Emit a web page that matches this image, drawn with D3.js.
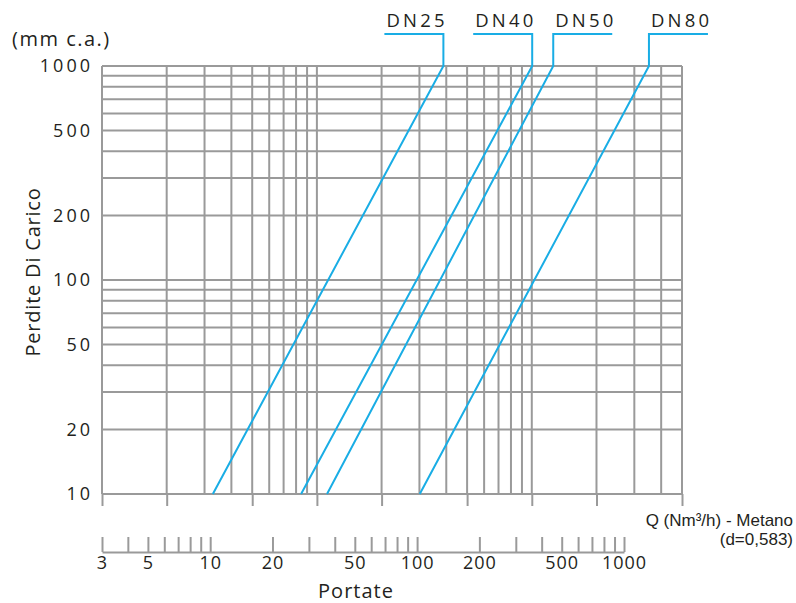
<!DOCTYPE html>
<html>
<head>
<meta charset="utf-8">
<script src="https://cdn.jsdelivr.net/npm/d3@7"></script>
<style>
    body { margin: 0; background: #fff; }
    svg text { font-family: "Open Sans", "Noto Sans", sans-serif; fill: #231f20; }
    .axis path, .axis line { stroke: #9a9a9a; stroke-width: 2; }
</style>
</head>
<body>
<div id="chart"></div>
<script>
// =============================================================================
// Data
// =============================================================================
const SERIES_NAMES = ['DN25', 'DN40', 'DN50', 'DN80'];
// flow Q (Nm3/h) where each line crosses 10 and 1000 mm c.a.
const FLOW_AT_MIN = [10.3, 27.5, 36.7, 103];
const FLOW_AT_MAX = [134, 360, 455, 1320];
const LEADER_SIDE = ['left', 'left', 'right', 'right'];

const LOSS_DOMAIN = [10, 1000];
const LOSS_LABELS = [10, 20, 50, 100, 200, 500, 1000];
const LOSS_GRID = [10, 20, 30, 40, 50, 60, 70, 80, 90, 100,
    200, 300, 400, 500, 600, 700, 800, 900, 1000];

// background grid of the chart (its own log units)
const GRID_DOMAIN = [1, 500];
const GRID_LINES = [1, 2, 3, 4, 5, 6, 7, 8, 9, 10,
    20, 30, 40, 50, 60, 70, 80, 90, 100, 200, 300, 400, 500];
const GRID_MAJOR = [1, 2, 5, 10, 20, 50, 100, 200, 500];

// "Portate" scale
const FLOW_DOMAIN = [3, 1000];
const FLOW_TICKS = [3, 4, 5, 6, 7, 8, 9, 10, 20, 30, 40, 50, 60, 70, 80, 90,
    100, 200, 300, 400, 500, 600, 700, 800, 900, 1000];
const FLOW_LABELS = [3, 5, 10, 20, 50, 100, 200, 500, 1000];

// =============================================================================
// Visual configuration
// =============================================================================
const WIDTH = 796;
const HEIGHT = 603;
const PLOT = { left: 102, right: 682, top: 66, bottom: 494 };
const FLOW_AXIS = { left: 102, right: 624, y: 552 };
const GRID_COLOR = '#9a9a9a';
const LINE_COLOR = '#19ade5';
const LEADER_Y = 34;
const LEADER_LEN = 59;

const svg = d3.select('#chart')
    .append('svg')
    .attr('width', WIDTH)
    .attr('height', HEIGHT);

const y = d3.scaleLog().domain(LOSS_DOMAIN).range([PLOT.bottom, PLOT.top]);
const gx = d3.scaleLog().domain(GRID_DOMAIN).range([PLOT.left, PLOT.right]);
const q = d3.scaleLog().domain(FLOW_DOMAIN).range([FLOW_AXIS.left, FLOW_AXIS.right]);

// Grid
const grid = svg.append('g')
    .attr('stroke', GRID_COLOR)
    .attr('stroke-width', 2)
    .attr('fill', 'none');

grid.selectAll('.h')
    .data(LOSS_GRID)
    .enter()
    .append('line')
    .attr('x1', PLOT.left)
    .attr('x2', PLOT.right)
    .attr('y1', d => y(d))
    .attr('y2', d => y(d));

grid.selectAll('.v')
    .data(GRID_LINES)
    .enter()
    .append('line')
    .attr('x1', d => gx(d))
    .attr('x2', d => gx(d))
    .attr('y1', PLOT.top)
    .attr('y2', PLOT.bottom);

// ticks hanging under the plot
svg.append('g')
    .attr('class', 'axis')
    .attr('transform', `translate(0,${PLOT.bottom})`)
    .call(d3.axisBottom(gx).tickValues(GRID_MAJOR).tickSize(12).tickFormat(''))
    .call(g => g.select('.domain').remove());

// Y labels
svg.append('g')
    .selectAll('text')
    .data(LOSS_LABELS)
    .enter()
    .append('text')
    .attr('x', 93)
    .attr('y', d => y(d))
    .attr('dy', '0.36em')
    .attr('text-anchor', 'end')
    .attr('font-size', '18px')
    .attr('letter-spacing', '3px')
    .text(d => d);

svg.append('text')
    .attr('x', 12)
    .attr('y', 46)
    .attr('font-size', '20px')
    .attr('letter-spacing', '1.5px')
    .text('(mm c.a.)');

svg.append('text')
    .attr('transform', 'translate(40,272) rotate(-90)')
    .attr('text-anchor', 'middle')
    .attr('font-size', '20px')
    .attr('letter-spacing', '0.8px')
    .text('Perdite Di Carico');

// Series lines with label leaders
const line = d3.line().x(d => d[0]).y(d => d[1]);

SERIES_NAMES.forEach((name, i) => {
    const x0 = q(FLOW_AT_MIN[i]);
    const x1 = q(FLOW_AT_MAX[i]);
    const xEnd = LEADER_SIDE[i] === 'left' ? x1 - LEADER_LEN : x1 + LEADER_LEN;
    const pts = [
        [x0, y(LOSS_DOMAIN[0])],
        [x1, y(LOSS_DOMAIN[1])],
        [x1, LEADER_Y],
        [xEnd, LEADER_Y]
    ];
    svg.append('path')
        .attr('d', line(pts))
        .attr('fill', 'none')
        .attr('stroke', LINE_COLOR)
        .attr('stroke-width', 2);

    svg.append('text')
        .attr('x', Math.min(x1, xEnd) + 2)
        .attr('y', 27)
        .attr('font-size', '18.5px')
        .attr('letter-spacing', '3.2px')
        .text(name);
});

// Portate axis
svg.append('g')
    .attr('class', 'axis')
    .attr('transform', `translate(0,${FLOW_AXIS.y})`)
    .call(d3.axisBottom(q)
        .tickValues(FLOW_TICKS)
        .tickSizeInner(-15)
        .tickSizeOuter(0)
        .tickPadding(4)
        .tickFormat(d => FLOW_LABELS.includes(d) ? d : ''))
    .call(g => g.selectAll('text')
        .attr('font-size', '18px')
        .attr('letter-spacing', '1px')
        .attr('font-family', '"Open Sans", sans-serif')
        .attr('fill', '#231f20'));

svg.append('text')
    .attr('x', 356)
    .attr('y', 598)
    .attr('text-anchor', 'middle')
    .attr('font-size', '20px')
    .attr('letter-spacing', '1px')
    .text('Portate');

svg.append('text')
    .attr('x', 793)
    .attr('y', 526)
    .attr('text-anchor', 'end')
    .attr('font-size', '17px')
    .style('font-family', '"Liberation Sans", Arial, sans-serif')
    .text('Q (Nm³/h) - Metano');

svg.append('text')
    .attr('x', 793)
    .attr('y', 545)
    .attr('text-anchor', 'end')
    .attr('font-size', '17px')
    .style('font-family', '"Liberation Sans", Arial, sans-serif')
    .text('(d=0,583)');
</script>
</body>
</html>
